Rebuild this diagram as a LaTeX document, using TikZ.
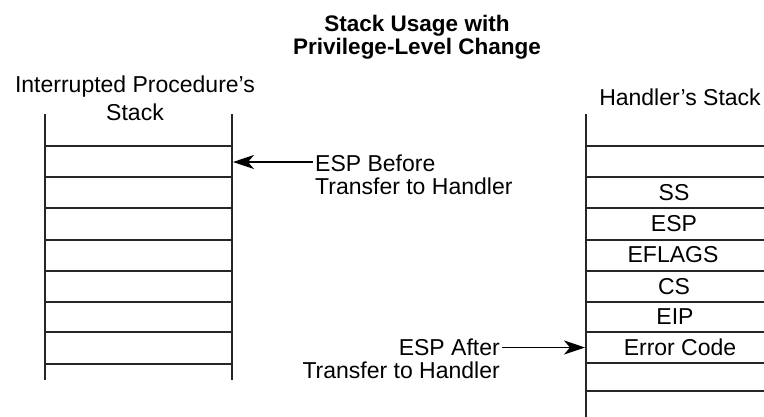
\documentclass[tikz,border=0pt]{standalone}
\usepackage{fontspec}
\setmainfont{Liberation Sans}
\usetikzlibrary{arrows.meta}
\begin{document}
\begin{tikzpicture}[x=1pt,y=-1pt,
  lbl/.style={inner sep=0pt,text=black,font=\fontsize{23}{23}\selectfont},
  stk/.style={line width=1.5pt,draw=black!85},
  ptr/.style={line width=1.3pt,draw=black,-{Stealth[length=21pt,width=14pt,inset=6pt]}}]
\useasboundingbox (0,0) rectangle (764,416);
\clip (0,0) rectangle (764,416);

% title
\node[lbl,font=\bfseries\fontsize{22.5}{23}\selectfont,align=center,anchor=north] (title) at (417,15)
  {Stack Usage with\\Privilege-Level Change};

% stack headers
\node[lbl,font=\fontsize{23}{28}\selectfont,align=center,anchor=north] (ilbl) at (135,76)
  {Interrupted Procedure’s\\Stack};
\node[lbl,anchor=base] (hlbl) at (680,105) {Handler’s Stack};

% left stack
\draw[stk] (45,114) -- (45,380);
\draw[stk] (232,114) -- (232,380);
\foreach \yy in {146,177,208,240,271,302,332,364}
  \draw[stk] (45,\yy) -- (232,\yy);

% right stack
\draw[stk] (586,114) -- (586,420);
\foreach \yy in {146,177,208,240,271,302,332,363,391}
  \draw[stk] (586,\yy) -- (775,\yy);

% right stack contents
\node[lbl] (ss) at (674,192.5) {SS};
\node[lbl] (esp) at (674,224) {ESP};
\node[lbl] (efl) at (673,254.5) {EFLAGS};
\node[lbl] (cs) at (674,286.5) {CS};
\node[lbl] (eip) at (675,317) {EIP};
\node[lbl] (err) at (680,347.5) {Error Code};

% pointer labels
\node[lbl,align=left,anchor=north west] (bef) at (315,154.8)
  {ESP Before\\Transfer to Handler};
\node[lbl,align=right,anchor=north east] (aft) at (500,338.6)
  {ESP After\\Transfer to Handler};

% pointer targets
\coordinate (bt) at (233,162);
\coordinate (at) at (585,347.5);
\coordinate (bs) at ([xshift=-2pt]bef.north west);
\coordinate (as) at ([xshift=2pt]aft.north east);

\draw[ptr] (bs |- bt) -- (bt);
\draw[ptr] (as |- at) -- (at);
\end{tikzpicture}
\end{document}
